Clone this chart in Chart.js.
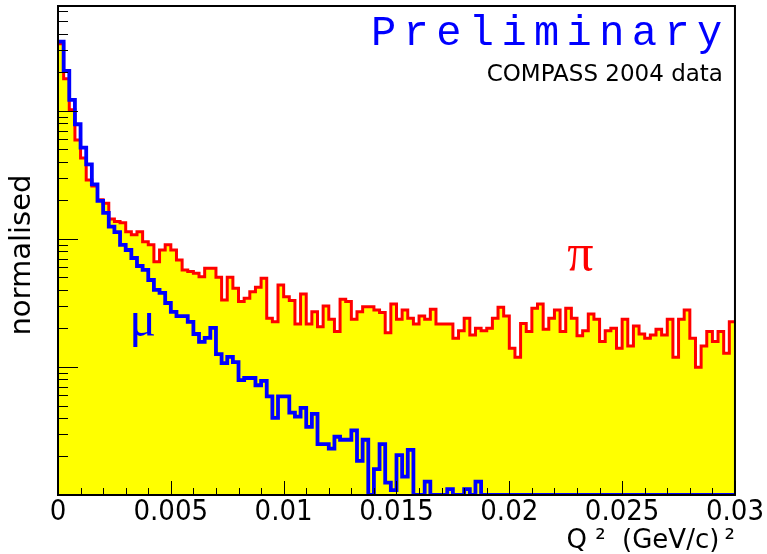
<!DOCTYPE html>
<html>
<head>
<meta charset="utf-8">
<title>Q2 - pion / muon</title>
<script src="https://cdn.jsdelivr.net/npm/chart.js@4.4.1/dist/chart.umd.min.js"></script>
<style>
  html, body { margin: 0; padding: 0; background: #fff; }
  canvas { display: block; }
</style>
</head>
<body>
<canvas id="q2chart" width="767" height="554"></canvas>
<script>
'use strict';

// histogram binning, Q2 in (GeV/c)^2
const binWidth = 0.00025;
const nBins = 120;
const xTickLabels = ['0', '0.005', '0.01', '0.015', '0.02', '0.025', '0.03'];
const yMin = 1;
const yMax = 6600;

// pion sample (red outline, yellow fill), normalised contents per bin
const pionCounts = [
    3340, 1780, 1020, 593, 429, 289, 259, 202, 190, 143,
    137, 134, 114, 108, 114, 95, 90, 66.5, 82, 90,
    82, 68.5, 57.3, 55.6, 54, 50.7, 59, 59, 50.2, 33.4,
    50.2, 41.2, 32.4, 34.4, 38.7, 42, 49.3, 24, 22.6, 43.7,
    35.4, 33, 21.7, 37.2, 21.7, 27, 20.6, 30, 23.6, 18.9,
    33.8, 32.4, 23.6, 27, 29.6, 29.6, 27.9, 26.6, 18.5, 31.1,
    23.6, 27.9, 24, 21.7, 25, 23.6, 28.2, 21.7, 21.7, 21.7,
    16.8, 19.2, 24, 17.8, 20.1, 19.2, 20.1, 24, 29.3, 25,
    14, 11.9, 21.9, 18.9, 28.8, 31.1, 19.7, 24, 27.9, 18.9,
    28.8, 24, 17.5, 19.2, 25.9, 23.6, 15.8, 19.2, 20.1, 14,
    23.6, 14.6, 20.9, 18.1, 16.8, 17.8, 19.7, 17.8, 23.6, 11.9,
    23.6, 27.9, 16.8, 9.95, 14.6, 18.9, 15.8, 18.9, 12.8, 22.6
];

// muon sample (blue outline), 0 = empty bin
const muonCounts = [
    3480, 2050, 1220, 787, 517, 383, 267, 198, 160, 125,
    113, 90, 82, 71, 61.5, 57.3, 47.8, 40, 37.9, 31.6,
    26.9, 25, 25, 22.5, 18.1, 15.7, 16.9, 20.2, 12.6, 10.7,
    12, 10.9, 7.9, 8.2, 8.2, 7.2, 7.8, 5.9, 4.0, 5.9,
    5.9, 4.4, 4.1, 4.8, 3.4, 4.3, 2.5, 2.5, 2.3, 2.85,
    2.7, 2.7, 3.2, 1.85, 2.7, 0, 1.59, 2.5, 1.25, 1.09,
    2.05, 1.39, 2.25, 0, 0, 1.27, 0, 0, 0, 1.11,
    0, 0, 1.11, 0, 1.27, 0, 0, 0, 0, 0,
    0, 0, 0, 0, 0, 0, 0, 0, 0, 0,
    0, 0, 0, 0, 0, 0, 0, 0, 0, 0,
    0, 0, 0, 0, 0, 0, 0, 0, 0, 0,
    0, 0, 0, 0, 0, 0, 0, 0, 0, 0
];

// step points: one per bin low edge, plus the upper edge of the last bin
function histPoints(counts) {
    let pts = [];
    for (let i = 0; i < nBins; i++) {
        pts.push({x: i * binWidth, y: counts[i] > 0 ? counts[i] : yMin});
    }
    pts.push({x: nBins * binWidth, y: pts[nBins - 1].y});
    return pts;
}

// ROOT style frame, inside tick marks and the text on the pad
const padDecor = {
    id: 'padDecor',
    afterDatasetsDraw(chart) {
        const ctx = chart.ctx;
        const a = chart.chartArea;
        const x = chart.scales.x;
        const y = chart.scales.y;
        ctx.save();

        ctx.strokeStyle = '#000';
        ctx.lineWidth = 1;
        ctx.beginPath();
        for (let k = 0; k <= 30; k++) {
            let px = Math.round(x.getPixelForValue(k * 0.001)) + 0.5;
            let len = k % 5 === 0 ? 14 : 7;
            ctx.moveTo(px, a.bottom);
            ctx.lineTo(px, a.bottom - len);
        }
        for (let d = 1; d <= 1000; d *= 10) {
            for (let m = 1; m <= 9; m++) {
                if (m * d > yMax) break;
                let py = Math.round(y.getPixelForValue(m * d)) + 0.5;
                ctx.moveTo(a.left, py);
                ctx.lineTo(a.left + (m === 1 ? 20 : 10), py);
            }
        }
        ctx.stroke();

        ctx.lineWidth = 2;
        ctx.strokeRect(a.left, a.top, a.right - a.left, a.bottom - a.top);

        ctx.textBaseline = 'alphabetic';
        ctx.fillStyle = '#0000ff';
        ctx.font = "42px 'Liberation Mono', monospace";
        ctx.textAlign = 'left';
        ctx.letterSpacing = '7.4px';
        ctx.fillText('Preliminary', a.left + 313, a.top + 39);
        ctx.letterSpacing = '0px';

        ctx.fillStyle = '#000';
        ctx.font = "23px 'DejaVu Sans', sans-serif";
        ctx.textAlign = 'right';
        ctx.fillText('COMPASS 2004 data', a.right - 12, a.top + 75);

        ctx.textAlign = 'center';
        ctx.font = "52px 'Liberation Serif', serif";
        ctx.fillStyle = '#ff0000';
        ctx.fillText('\u03c0', x.getPixelForValue(0.02315), y.getPixelForValue(57));
        ctx.font = "50px 'Liberation Serif', serif";
        ctx.fillStyle = '#0000ff';
        ctx.fillText('\u03bc', x.getPixelForValue(0.00375), y.getPixelForValue(17.5));

        ctx.restore();
    }
};

new Chart(document.getElementById('q2chart'), {
    type: 'line',
    data: {
        datasets: [
            {
                label: 'mu',
                data: histPoints(muonCounts),
                stepped: true,
                borderColor: '#0000ff',
                borderWidth: 3.8,
                pointRadius: 0,
                fill: false
            },
            {
                label: 'pi',
                data: histPoints(pionCounts),
                stepped: true,
                borderColor: '#ff0000',
                borderWidth: 3,
                backgroundColor: '#ffff00',
                pointRadius: 0,
                fill: 'start'
            }
        ]
    },
    options: {
        responsive: false,
        animation: false,
        devicePixelRatio: 1,
        layout: { padding: { top: 6, right: 30, bottom: 0, left: 0 } },
        plugins: {
            legend: { display: false },
            tooltip: { enabled: false }
        },
        scales: {
            x: {
                type: 'linear',
                min: 0,
                max: 0.03,
                grid: { display: false, drawTicks: false },
                border: { display: false },
                ticks: {
                    stepSize: 0.005,
                    autoSkip: false,
                    maxRotation: 0,
                    padding: 3,
                    color: '#000',
                    font: { family: "'DejaVu Sans Condensed', 'DejaVu Sans', sans-serif", size: 29, lineHeight: 1 },
                    callback: (v) => xTickLabels[Math.round(v / 0.005)]
                },
                title: {
                    display: true,
                    text: 'Q \u00b2  (GeV/c)\u2009\u00b2',
                    align: 'end',
                    color: '#000',
                    font: { family: "'DejaVu Sans', sans-serif", size: 26, lineHeight: 1 },
                    padding: 0
                },
                afterFit: (s) => { s.height = 59; }
            },
            y: {
                type: 'logarithmic',
                min: yMin,
                max: yMax,
                grid: { display: false, drawTicks: false },
                border: { display: false },
                ticks: { display: false },
                title: {
                    display: true,
                    text: 'normalised ',
                    color: '#000',
                    font: { family: "'DejaVu Sans', sans-serif", size: 29, lineHeight: 1 },
                    padding: { top: 8, bottom: 0 }
                },
                afterFit: (s) => { s.width = 58; }
            }
        }
    },
    plugins: [padDecor]
});
</script>
</body>
</html>
